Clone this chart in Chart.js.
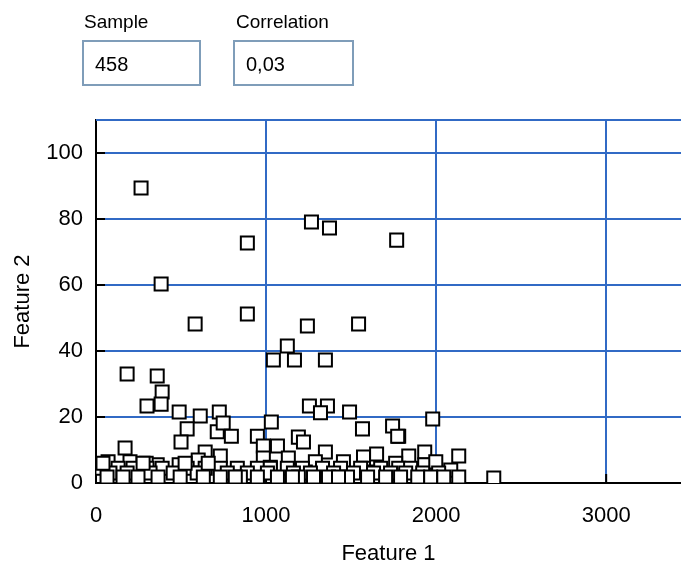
<!DOCTYPE html>
<html>
<head>
<meta charset="utf-8">
<script src="https://cdn.jsdelivr.net/npm/chart.js@4"></script>
<style>
    body { margin: 0; background: #fff; font-family: "Liberation Sans", Arial, sans-serif; }
    #wrap { position: relative; width: 681px; height: 567px; }
    #scatterChart { position: absolute; left: 0; top: 0; }
    .lbl { position: absolute; font-size: 19px; color: #000; }
    .box { position: absolute; top: 40px; height: 46px; border: 2px solid #7f9db9; box-sizing: border-box;
           font-size: 20px; line-height: 44px; padding-left: 11px; }
</style>
</head>
<body>
<div id="wrap">
    <canvas id="scatterChart" width="681" height="567"></canvas>
    <div class="lbl" style="left:84px; top:11px;">Sample</div>
    <div class="box" style="left:82px; width:119px;">458</div>
    <div class="lbl" style="left:236px; top:11px;">Correlation</div>
    <div class="box" style="left:233px; width:121px;">0,03</div>
</div>
<script>
const feature1 = [
    265, 1267, 1373, 1768, 890, 383, 583, 890, 1243, 1544,
    1125, 1043, 1167, 1349, 183, 360, 389, 300, 383, 1255,
    1361, 489, 1320, 1491, 725, 613, 536, 713, 748, 796,
    1031, 949, 1567, 1780, 1980, 171, 500, 984, 1067, 1190,
    1220, 1349, 1573, 1650, 1839, 1933, 2133, 71, 200, 360,
    489, 642, 731, 984, 1131, 1290, 1455, 1573, 1762, 1933,
    1998, 2086, 2339, 295, 601, 1025, 949, 1231, 1479, 1603,
    35, 130, 218, 300, 389, 536, 642, 731, 831, 949,
    1025, 1125, 1214, 1332, 1438, 1556, 1674, 1780, 1850, 82,
    183, 318, 454, 595, 772, 890, 1008, 1161, 1261, 1397,
    1514, 1632, 1732, 1821, 1921, 2015, 65, 159, 247, 365,
    495, 631, 731, 849, 949, 1067, 1190, 1279, 1367, 1479,
    1597, 1703, 1791, 1892, 1968, 2045, 2133, 41, 277, 524,
    660, 819, 1155, 1426, 1744, 1774,
];
const feature2 = [
    89.4, 79.1, 77.3, 73.6, 72.7, 60.3, 48.2, 51.2, 47.6, 48.2,
    41.5, 37.3, 37.3, 37.3, 33.0, 32.4, 27.6, 23.3, 23.9, 23.3,
    23.3, 21.5, 21.3, 21.5, 21.5, 20.3, 16.4, 15.5, 18.2, 14.2,
    18.5, 14.2, 16.4, 14.2, 19.4, 10.6, 12.4, 11.2, 11.2, 13.9,
    12.4, 9.4, 7.9, 8.8, 8.2, 9.4, 8.2, 6.4, 6.4, 5.5,
    5.5, 9.4, 8.2, 7.6, 7.6, 6.4, 6.4, 4.5, 6.0, 5.5,
    6.4, 3.9, 1.5, 6.0, 7.0, 4.8, 2.4, 3.3, 2.4, 3.3,
    4.5, 4.5, 4.5, 4.5, 4.5, 4.5, 4.5, 4.5, 4.5, 4.5,
    4.5, 4.5, 4.5, 4.5, 4.5, 4.5, 4.5, 4.5, 4.5, 3.0,
    3.0, 3.0, 3.0, 3.0, 3.0, 3.0, 3.0, 3.0, 3.0, 3.0,
    3.0, 3.0, 3.0, 3.0, 3.0, 3.0, 1.8, 1.8, 1.8, 1.8,
    1.8, 1.8, 1.8, 1.8, 1.8, 1.8, 1.8, 1.8, 1.8, 1.8,
    1.8, 1.8, 1.8, 1.8, 1.8, 1.8, 1.8, 6.0, 6.0, 6.0,
    6.0, 1.8, 1.8, 1.8, 17.3, 14.2,
];
const xTicks = [0, 1000, 2000, 3000];
const yTicks = [0, 20, 40, 60, 80, 100];

const gridBlue = "#316ac5";
const labelFont = { family: "Liberation Sans", size: 22 };

// blue top edge and short black ticks pointing into the plot
const framePlugin = {
    id: "frame",
    beforeDatasetsDraw: (chart) => {
        const { ctx, chartArea: a, scales: { x, y } } = chart;
        ctx.save();
        ctx.lineWidth = 2;
        ctx.strokeStyle = gridBlue;
        ctx.beginPath();
        ctx.moveTo(a.left, a.top);
        ctx.lineTo(a.right, a.top);
        ctx.stroke();
        ctx.strokeStyle = "#000";
        ctx.beginPath();
        yTicks.forEach((v) => {
            const p = y.getPixelForValue(v);
            ctx.moveTo(a.left, p);
            ctx.lineTo(a.left + 9, p);
        });
        xTicks.forEach((v) => {
            const p = x.getPixelForValue(v);
            ctx.moveTo(p, a.bottom);
            ctx.lineTo(p, a.bottom - 9);
        });
        ctx.stroke();
        ctx.restore();
    },
};

const ctx = document.getElementById("scatterChart").getContext("2d");
const scatterChart = new Chart(ctx, {
    type: "scatter",
    data: {
        datasets: [
            {
                data: feature1.map((v, i) => ({ x: v, y: feature2[i] })),
                pointStyle: "rect",
                pointRadius: 9.2,
                pointHoverRadius: 9.2,
                backgroundColor: "#fff",
                borderColor: "#000",
                borderWidth: 2,
            },
        ],
    },
    options: {
        responsive: false,
        animation: false,
        layout: { autoPadding: false, padding: { top: 120, left: 0, right: 0, bottom: 0 } },
        plugins: {
            legend: { display: false },
            tooltip: { enabled: false },
        },
        scales: {
            x: {
                type: "linear",
                min: 0,
                max: 3440,
                afterBuildTicks: (s) => {
                    s.ticks = xTicks.map((v) => ({ value: v }));
                },
                afterFit: (s) => {
                    s.height = 84;
                },
                grid: { color: gridBlue, lineWidth: 2, drawTicks: false },
                border: { color: "#000", width: 2 },
                ticks: {
                    color: "#000",
                    font: labelFont,
                    padding: 20,
                    maxRotation: 0,
                    callback: (v) => String(v),
                },
                title: {
                    display: true,
                    text: "Feature 1",
                    color: "#000",
                    font: labelFont,
                    padding: { top: 0, bottom: 0 },
                },
            },
            y: {
                type: "linear",
                min: 0,
                max: 110,
                afterBuildTicks: (s) => {
                    s.ticks = yTicks.map((v) => ({ value: v }));
                },
                afterFit: (s) => {
                    s.width = 96;
                },
                grid: { color: gridBlue, lineWidth: 2, drawTicks: false },
                border: { color: "#000", width: 2 },
                ticks: { color: "#000", font: labelFont, padding: 13, callback: (v) => String(v) },
                title: {
                    display: true,
                    text: "Feature 2",
                    color: "#000",
                    font: labelFont,
                    padding: { top: 10, bottom: 0 },
                },
            },
        },
    },
    plugins: [framePlugin],
});
</script>
</body>
</html>
